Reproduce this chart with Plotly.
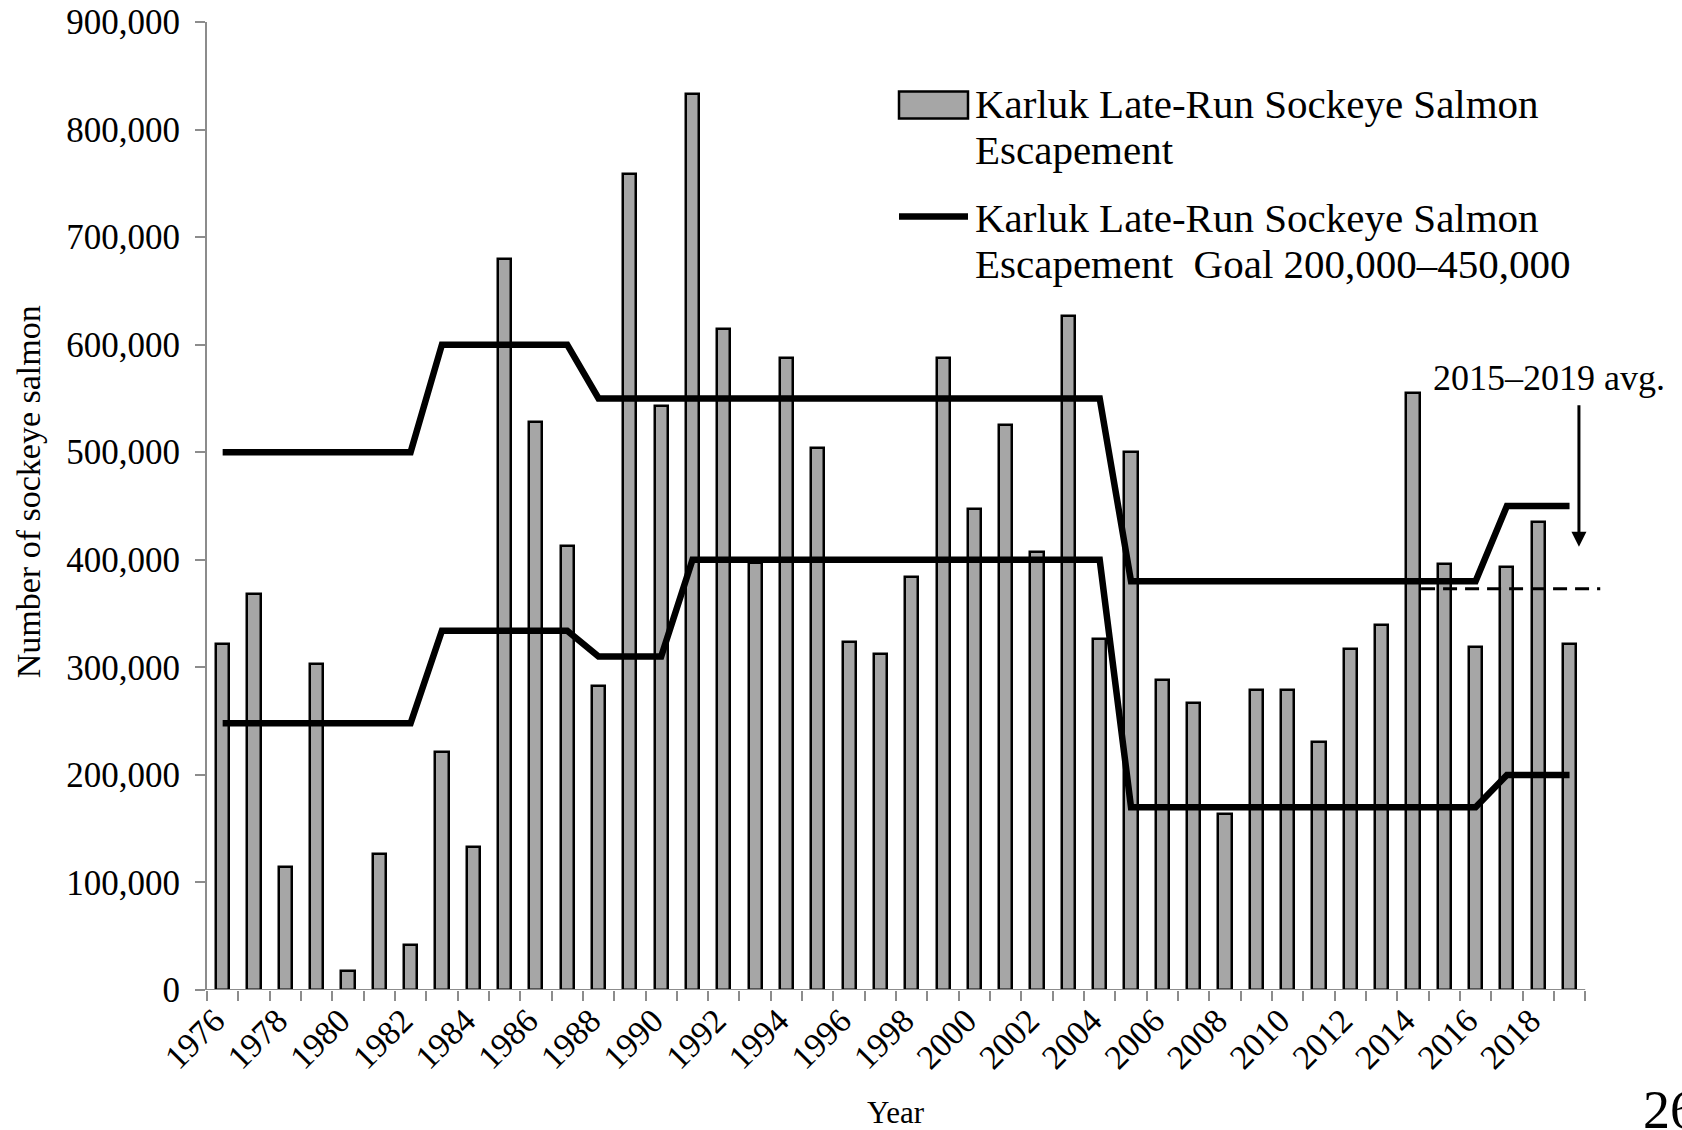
import plotly.graph_objects as go

# ---------------- data ----------------
years = [1976, 1977, 1978, 1979, 1980, 1981, 1982, 1983, 1984, 1985,
         1986, 1987, 1988, 1989, 1990, 1991, 1992, 1993, 1994, 1995,
         1996, 1997, 1998, 1999, 2000, 2001, 2002, 2003, 2004, 2005,
         2006, 2007, 2008, 2009, 2010, 2011, 2012, 2013, 2014, 2015,
         2016, 2017, 2018, 2019]

escapement = [322000, 368000, 114000, 303000, 18000, 126000, 42000, 221000, 133000, 680000,
              528000, 413000, 283000, 759000, 543000, 833000, 615000, 397000, 588000, 504000,
              324000, 312000, 384000, 588000, 447000, 525000, 407000, 627000, 326000, 500000,
              288000, 267000, 164000, 279000, 279000, 231000, 317000, 339000, 555000, 396000,
              319000, 393000, 435000, 322000]

goal_upper = [500000, 500000, 500000, 500000, 500000, 500000, 500000, 600000, 600000, 600000,
              600000, 600000, 550000, 550000, 550000, 550000, 550000, 550000, 550000, 550000,
              550000, 550000, 550000, 550000, 550000, 550000, 550000, 550000, 550000, 380000,
              380000, 380000, 380000, 380000, 380000, 380000, 380000, 380000, 380000, 380000,
              380000, 450000, 450000, 450000]

goal_lower = [248000, 248000, 248000, 248000, 248000, 248000, 248000, 334000, 334000, 334000,
              334000, 334000, 310000, 310000, 310000, 400000, 400000, 400000, 400000, 400000,
              400000, 400000, 400000, 400000, 400000, 400000, 400000, 400000, 400000, 170000,
              170000, 170000, 170000, 170000, 170000, 170000, 170000, 170000, 170000, 170000,
              170000, 200000, 200000, 200000]

avg_2015_2019 = 373000
avg_line_start_year = 2014.26
avg_line_end_year = 2019.98

tick_years = [1976, 1978, 1980, 1982, 1984, 1986, 1988, 1990, 1992, 1994, 1996,
              1998, 2000, 2002, 2004, 2006, 2008, 2010, 2012, 2014, 2016, 2018]
tick_text = [str(y) for y in tick_years]

bar_name = "Karluk Late-Run Sockeye Salmon Escapement"
line_name = "Karluk Late-Run Sockeye Salmon Escapement Goal 200,000–450,000"

# ---------------- layout geometry ----------------
W, H = 1682, 1130
L, R, T, B = 207, 78, 21.5, 140
PW, PH = W - L - R, H - T - B
FONT = "Liberation Serif, Times New Roman, serif"
GRAY = "#8C8C8C"
BAR_FILL = "#A6A6A6"
LABEL_SHIFT = 0.25  # rotated year labels sit slightly left of the bar centre


def px(x):
    return (x - L) / PW


def py(y):
    return 1 - (y - T) / PH


fig = go.Figure()
fig.add_trace(go.Bar(
    x=years, y=escapement, width=0.42, name=bar_name,
    marker=dict(color=BAR_FILL, line=dict(color="black", width=2.5)),
    showlegend=False))
fig.add_trace(go.Scatter(
    x=years, y=goal_upper, mode="lines", name=line_name,
    line=dict(color="black", width=6.5), showlegend=False))
fig.add_trace(go.Scatter(
    x=years, y=goal_lower, mode="lines", name=line_name,
    line=dict(color="black", width=6.5), showlegend=False))

boundaries = [y - 0.5 for y in years] + [years[-1] + 0.5]

shapes = [
    # x axis baseline
    dict(type="line", xref="x", yref="y", x0=years[0] - 0.5, x1=years[-1] + 0.5,
         y0=0, y1=0, line=dict(color=GRAY, width=2), layer="above"),
    # 2015-2019 average dashed line
    dict(type="line", xref="x", yref="y", x0=avg_line_start_year, x1=avg_line_end_year,
         y0=avg_2015_2019, y1=avg_2015_2019,
         line=dict(color="black", width=3, dash="14px,8px"), layer="above"),
    # legend symbols
    dict(type="rect", xref="paper", yref="paper", x0=px(899), x1=px(968),
         y0=py(118), y1=py(91), fillcolor=BAR_FILL, line=dict(color="black", width=2.5)),
    dict(type="line", xref="paper", yref="paper", x0=px(899), x1=px(968),
         y0=py(216), y1=py(216), line=dict(color="black", width=6.5)),
]

annotations = [
    # arrow for average
    dict(x=2019.3, y=412000, ax=2019.3, ay=545000, xref="x", yref="y",
         axref="x", ayref="y", text="", showarrow=True, arrowhead=2,
         arrowsize=1, arrowwidth=3, arrowcolor="black", standoff=0),
    dict(x=2018.33, y=569000, xref="x", yref="y", text="2015–2019 avg.",
         showarrow=False, font=dict(family=FONT, size=36, color="black"),
         xanchor="center", yanchor="middle"),
    # y-axis title
    dict(x=px(28), y=py(492), xref="paper", yref="paper", text="Number of sockeye salmon",
         textangle=-90, showarrow=False, font=dict(family=FONT, size=34, color="black"),
         xanchor="center", yanchor="middle"),
    # x-axis title
    dict(x=px(896), y=py(1113), xref="paper", yref="paper", text="Year",
         showarrow=False, font=dict(family=FONT, size=31, color="black"),
         xanchor="center", yanchor="middle"),
    # page number
    dict(x=px(1641), y=py(1110), xref="paper", yref="paper", text="26",
         showarrow=False, font=dict(family=FONT, size=54, color="black"),
         xanchor="left", yanchor="middle"),
]

legend_lines = [
    ("Karluk Late-Run Sockeye Salmon", 104),
    ("Escapement", 150),
    ("Karluk Late-Run Sockeye Salmon", 218),
    ("Escapement\u00a0 Goal 200,000–450,000", 264),
]
for txt, yy in legend_lines:
    annotations.append(dict(x=px(973), y=py(yy), xref="paper", yref="paper", text=txt,
                            showarrow=False, xanchor="left", yanchor="middle",
                            font=dict(family=FONT, size=41, color="black")))

fig.update_layout(
    template="none",
    width=W, height=H,
    margin=dict(l=L, r=R, t=T, b=B, pad=0),
    paper_bgcolor="white", plot_bgcolor="white",
    font=dict(family=FONT, color="black"),
    showlegend=False,
    bargap=0,
    shapes=shapes,
    annotations=annotations,
    xaxis=dict(
        range=[years[0] - 0.5, 2020.1],
        tickmode="array", tickvals=[y - LABEL_SHIFT for y in tick_years], ticktext=tick_text,
        tickangle=-45, ticks="", ticklabelstandoff=3,
        tickfont=dict(family=FONT, size=34, color="black"),
        minor=dict(tickmode="array", tickvals=boundaries, ticks="outside",
                   ticklen=10, tickwidth=2, tickcolor=GRAY, showgrid=False),
        showline=False, showgrid=False, zeroline=False, automargin=False,
    ),
    yaxis=dict(
        range=[0, 900000], tickmode="linear", tick0=0, dtick=100000,
        tickformat=",", ticks="outside", ticklen=10, tickwidth=2, tickcolor=GRAY,
        ticklabelstandoff=8,
        tickfont=dict(family=FONT, size=35, color="black"),
        showline=True, linecolor=GRAY, linewidth=2,
        showgrid=False, zeroline=False, automargin=False,
    ),
)

fig.write_html("out.html", config={"displayModeBar": False},
               post_script="document.body.style.margin='0';")
